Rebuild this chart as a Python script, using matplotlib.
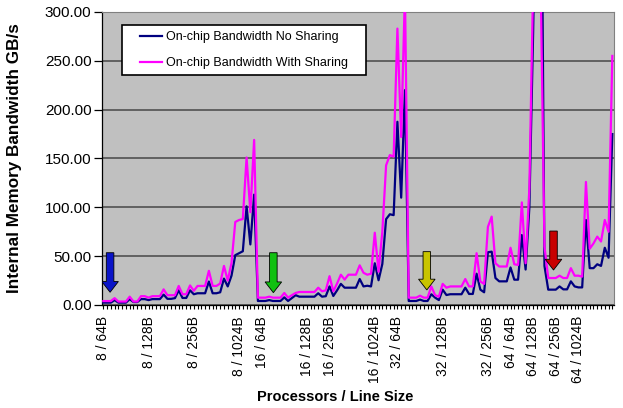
import matplotlib
matplotlib.use("Agg")
import matplotlib.pyplot as plt
from matplotlib.patches import FancyArrow, Rectangle
import numpy as np

plt.rcParams['font.family'] = ['Liberation Sans', 'DejaVu Sans']

# bandwidth (GB/s) per configuration, grouped by processor count
no_sharing_8 = [2.4, 2.4, 2.4, 5, 2.4, 2.4, 2.4, 6, 3, 3, 6, 6, 5, 6, 6, 6, 10.6, 6.3, 6.3, 7,
                15, 7.2, 7.2, 15, 11, 12, 12, 12, 24, 12, 12, 13, 27, 19, 30, 51, 53, 55, 101, 62, 113]
no_sharing_16 = [4.1, 4.1, 4.1, 5, 4.1, 4.1, 4.1, 7.8, 4.1, 7, 10, 8.5, 8.5, 8.5, 8.5, 8.5, 12, 8.5, 9, 19,
                 9.2, 15, 21.6, 17.7, 17.7, 17.7, 17.7, 26.6, 19, 19.7, 19, 42.7, 25.3, 42, 87.9, 92.9, 92,
                 187.6, 109.9, 220]
no_sharing_32 = [4.1, 4.1, 4.1, 5.5, 4.1, 4.1, 11, 7.5, 5, 15.7, 10.2, 11, 11, 11, 11, 17.7, 11.3, 11.3, 32,
                 15.7, 13, 54, 54.6, 27.6, 24.2, 24.2, 24.2, 38.4, 25.9, 25.9, 71.6, 36.3, 100, 280, 500, 560, 40]
no_sharing_64 = [15.7, 15.7, 15.7, 19, 16, 16, 24.2, 19, 18, 18, 87, 37.7, 37.7, 41.7, 40, 58.6, 48.4, 175]

with_sharing_8 = [4, 4, 4, 7, 3.5, 3.5, 3.5, 8.5, 3.5, 3.5, 9, 9, 7.5, 9, 9, 9, 16, 10, 10, 10,
                  19.5, 11, 11, 20, 14.5, 19.5, 19.5, 19.5, 35, 19.5, 19.5, 22, 40, 25, 43, 85, 87, 88, 151, 95, 169]
with_sharing_16 = [7.5, 7.5, 7.5, 8.5, 7.5, 7.5, 7.5, 12.3, 7.5, 10, 12.3, 13.3, 13.3, 13.3, 13.3, 13.3, 17.7, 14,
                   15, 29.5, 14, 22, 31, 26, 31, 31, 31, 40.6, 33, 31, 32, 74, 34, 75, 143, 153.5, 152, 283, 172, 320]
with_sharing_32 = [7.5, 7.5, 7.5, 9.5, 7.5, 7.5, 19, 10, 8.5, 21.6, 17.7, 19, 19, 19, 19, 26.6, 19, 19, 53,
                   24, 21.6, 80, 90.5, 42.7, 39.4, 39.4, 39.4, 58.6, 41.7, 41, 105, 42.7, 120, 330, 400, 330, 60]
with_sharing_64 = [27.6, 27.6, 27.6, 30, 27.6, 27.6, 37.7, 30, 30, 29, 126, 57.6, 63, 70, 65, 87, 75, 255]

no_sharing = no_sharing_8 + no_sharing_16 + no_sharing_32 + no_sharing_64
with_sharing = with_sharing_8 + with_sharing_16 + with_sharing_32 + with_sharing_64

label_pos = [0, 12, 24, 36, 42, 54, 60, 72, 78, 90, 102, 108, 114, 120, 126]
label_text = ['8 / 64B', '8 / 128B', '8 / 256B', '8 / 1024B', '16 / 64B', '16 / 128B', '16 / 256B',
              '16 / 1024B', '32 / 64B', '32 / 128B', '32 / 256B', '64 / 64B', '64 / 128B',
              '64 / 256B', '64 / 1024B']

# highlight arrows: (category, top value, tip value, colour)
arrows = [(1.8, 53.5, 13, '#0a14c8'), (45.1, 53.5, 12.6, '#10c010'),
          (85.8, 54.6, 15.4, '#c8c400'), (119.4, 75.7, 35.8, '#c80000')]

x = np.arange(len(no_sharing))

fig = plt.figure(figsize=(6.23, 4.08), dpi=100)
ax = fig.add_axes([0.1637, 0.2525, 0.8219, 0.7181])
ax.set_facecolor('#c0c0c0')

ax.plot(x, no_sharing, color='#000080', lw=1.6, label='On-chip Bandwidth No Sharing', zorder=3)
ax.plot(x, with_sharing, color='#ff00ff', lw=1.6, label='On-chip Bandwidth With Sharing', zorder=3)

for xa, top, tip, col in arrows:
    ax.add_patch(FancyArrow(xa, top, 0, tip - top, width=2.0, head_width=4.4, head_length=11,
                            length_includes_head=True, facecolor=col, edgecolor='black', lw=0.6, zorder=4))

ax.set_ylim(0, 300)
ax.set_xlim(-0.35, len(x) - 1 + 0.45)
ax.set_yticks(np.arange(0, 301, 50))
ax.set_yticklabels([f'{v:.2f}' for v in np.arange(0, 301, 50)], fontsize=11)
ax.yaxis.grid(True, color='#5a5a5a', lw=1.3)
ax.set_axisbelow(True)

ticklabels = [''] * len(x)
for p, t in zip(label_pos, label_text):
    ticklabels[p] = t
ax.set_xticks(x)
ax.set_xticklabels(ticklabels, rotation=90, fontsize=10)
ax.tick_params(axis='x', length=3, width=0.8, pad=5)
ax.tick_params(axis='y', length=6, width=0.9, pad=1.5)

for s in ['top', 'right']:
    ax.spines[s].set_color('#808080')
ax.spines['left'].set_linewidth(0.9)
ax.spines['bottom'].set_linewidth(0.9)

ax.set_ylabel('Internal Memory Bandwidth GB/s', fontsize=12.3, fontweight='bold')
ax.yaxis.set_label_coords(-0.157, 0.5)
ax.set_xlabel('Processors / Line Size', fontsize=10.5, fontweight='bold')
ax.xaxis.set_label_coords(0.455, -0.29)

# legend box
ax.add_patch(Rectangle((0.039, 0.785), 0.477, 0.171, transform=ax.transAxes, facecolor='white',
                       edgecolor='black', lw=1.2, zorder=5))
ax.legend(loc='upper left', bbox_to_anchor=(0.064, 0.952), frameon=False, fontsize=9,
          handlelength=1.8, handletextpad=0.3, labelspacing=1.15, borderaxespad=0)

fig.savefig('out.png', dpi=100)
